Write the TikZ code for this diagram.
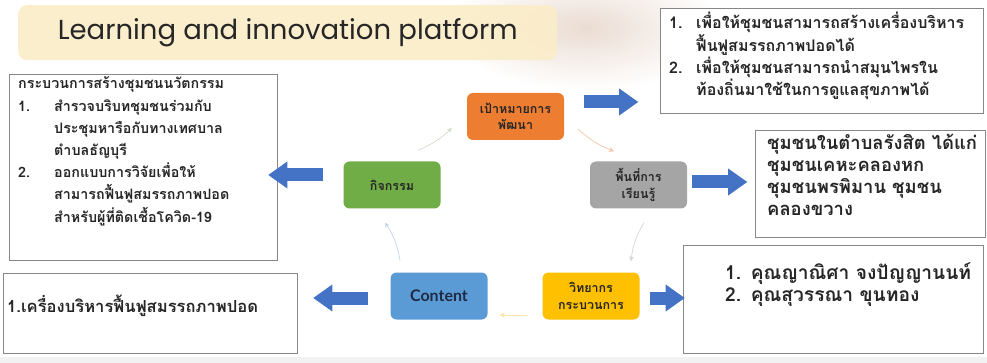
\documentclass[tikz,border=0pt]{standalone}
\usepackage{fontspec}
\setmainfont{Lato}
\newfontfamily\titlefont{Poppins}
\newfontfamily\thai[Script=Thai]{Loma}
\usetikzlibrary{arrows.meta,calc}
\definecolor{titlebg}{HTML}{FBEDC8}
\definecolor{boxline}{HTML}{878787}
\definecolor{cOrange}{HTML}{ED7D31}
\definecolor{cGreen}{HTML}{70AD47}
\definecolor{cGray}{HTML}{A5A5A5}
\definecolor{cBlue}{HTML}{5B9BD5}
\definecolor{cYellow}{HTML}{FFC000}
\definecolor{arrBlue}{HTML}{4472C4}
\definecolor{navy}{HTML}{1F2A44}
\definecolor{txt}{HTML}{262626}
\definecolor{bottomgray}{HTML}{F2F2F2}
\definecolor{photo}{HTML}{EADCD2}
\definecolor{lOrange}{HTML}{F6C3A4}
\definecolor{lGray}{HTML}{D6D6D6}
\definecolor{lYellow}{HTML}{FFE3A0}
\definecolor{lBlue}{HTML}{C3D6EA}
\definecolor{lGreen}{HTML}{D3DDCB}
\begin{document}
\begin{tikzpicture}[x=1pt,y=-1pt,
  infobox/.style={draw=boxline, line width=0.9pt, fill=white, anchor=north west, inner sep=0pt},
  thaitext/.style={anchor=base west, inner sep=0pt, text width=330pt, align=left, text=txt},
  cycnode/.style={rounded corners=6pt, minimum width=97pt, minimum height=47pt, inner sep=0pt, text=txt, align=center, font=\thai\bfseries\fontsize{12.5}{16.5}\selectfont},
  bigarrow/.style={line width=13pt, arrBlue, -{Triangle[length=19pt,width=27pt,line width=0pt]}},
  thinarrow/.style={line width=0.7pt, -{Stealth[length=5pt,width=5pt]}}
]
\useasboundingbox (0,0) rectangle (987,363);
\fill[white] (0,0) rectangle (987,363);
\fill[bottomgray] (0,357) rectangle (987,363);
\shade[inner color=photo, outer color=white] (585,28) ellipse (140pt and 62pt);

% title
\node[fill=titlebg, fill opacity=0.9, text opacity=1, rounded corners=9pt, minimum width=539pt, minimum height=55pt, anchor=north west, inner sep=0pt,
  font=\titlefont\fontsize{27.5}{32}\selectfont, text=txt] (title) at (18,5) {Learning and innovation platform};

% info boxes
\node[infobox, minimum width=268pt, minimum height=186pt] (proc) at (9,74) {};
\node[infobox, minimum width=323pt, minimum height=105pt] (aims) at (660,8) {};
\node[infobox, minimum width=230pt, minimum height=107pt] (comm) at (755,130) {};
\node[infobox, minimum width=300pt, minimum height=108pt] (spkbox) at (683,245) {};
\node[infobox, minimum width=294pt, minimum height=80pt] (prod) at (3,273) {};

% cycle nodes
\node[cycnode, fill=cOrange] (goal) at (515.5,116.5) {เป้าหมายการ\\พัฒนา};
\node[cycnode, fill=cGreen] (act) at (392,185) {กิจกรรม};
\node[cycnode, fill=cGray] (area) at (638.5,185) {พื้นที่การ\\เรียนรู้};
\node[cycnode, fill=cBlue, font=\bfseries\fontsize{16}{18}\selectfont, text=navy] (cont) at (439,296) {Content};
\node[cycnode, fill=cYellow] (spk) at (591,296) {วิทยากร\\กระบวนการ};

% texts
\node[thaitext, font=\thai\bfseries\fontsize{14.3}{22.2}\selectfont] (proctext) at (18,89) {%
กระบวนการสร้างชุมชนนวัตกรรม\\
\makebox[36pt][l]{1.}สำรวจบริบทชุมชนร่วมกับ\\
\hspace*{36pt}ประชุมหารือกับทางเทศบาล\\
\hspace*{36pt}ตำบลธัญบุรี\\
\makebox[36pt][l]{2.}ออกแบบการวิจัยเพื่อให้\\
\hspace*{36pt}สามารถฟื้นฟูสมรรถภาพปอด\\
\hspace*{36pt}สำหรับผู้ที่ติดเชื้อโควิด-19};

\node[thaitext, font=\thai\bfseries\fontsize{16}{22.3}\selectfont] (aimstext) at (669,29) {%
\makebox[27pt][l]{1.}เพื่อให้ชุมชนสามารถสร้างเครื่องบริหาร\\
\hspace*{27pt}ฟื้นฟูสมรรถภาพปอดได้\\
\makebox[27pt][l]{2.}เพื่อให้ชุมชนสามารถนำสมุนไพรใน\\
\hspace*{27pt}ท้องถิ่นมาใช้ในการดูแลสุขภาพได้};

\node[thaitext, font=\thai\bfseries\fontsize{18.4}{21.8}\selectfont] (commtext) at (767,150) {%
ชุมชนในตำบลรังสิต ได้แก่\\
ชุมชนเคหะคลองหก\\
ชุมชนพรพิมาน ชุมชน\\
คลองขวาง};

\node[thaitext, font=\thai\bfseries\fontsize{19.2}{22}\selectfont] (spktext) at (725,279) {%
1. คุณญาณิศา จงปัญญานนท์\\
2. คุณสุวรรณา ขุนทอง};

\node[thaitext, font=\thai\bfseries\fontsize{16.6}{20}\selectfont] (prodtext) at (7,312) {%
1.เครื่องบริหารฟื้นฟูสมรรถภาพปอด};

% block arrows
\draw[bigarrow] ([xshift=20pt,yshift=14.5pt]goal.east) -- ++(54,0);
\draw[bigarrow] ([xshift=5pt,yshift=3pt]area.east) -- ++(55,0);
\draw[bigarrow] ([xshift=10pt,yshift=-2pt]spk.east) -- ++(35,0);
\draw[bigarrow] ([xshift=-22pt,yshift=-2pt]cont.west) -- ++(-55,0);
\draw[bigarrow] ([xshift=-20pt,yshift=10pt]act.west) -- ++(-55,0);

% cycle arrows
\draw[thinarrow, lOrange] ([xshift=14pt,yshift=11pt]goal.south east) to[bend right=10] ([xshift=-24.5pt,yshift=10pt]area.north);
\draw[thinarrow, lGray] ([xshift=5.5pt,yshift=-14pt]area.south) to[bend right=12] ([xshift=40pt,yshift=11pt]spk.north);
\draw[thinarrow, lYellow] ([xshift=-15pt,yshift=-19pt]spk.west) to ([xshift=12pt,yshift=-19pt]cont.east);
\draw[thinarrow, lBlue] ([xshift=-39pt,yshift=12pt]cont.north) to[bend right=12] ([xshift=-7pt,yshift=-14pt]act.south);
\draw[thinarrow, lGreen] ([xshift=26pt,yshift=11pt]act.north) to[bend right=10] ([xshift=-15pt,yshift=-11.5pt]goal.west);
\end{tikzpicture}
\end{document}
